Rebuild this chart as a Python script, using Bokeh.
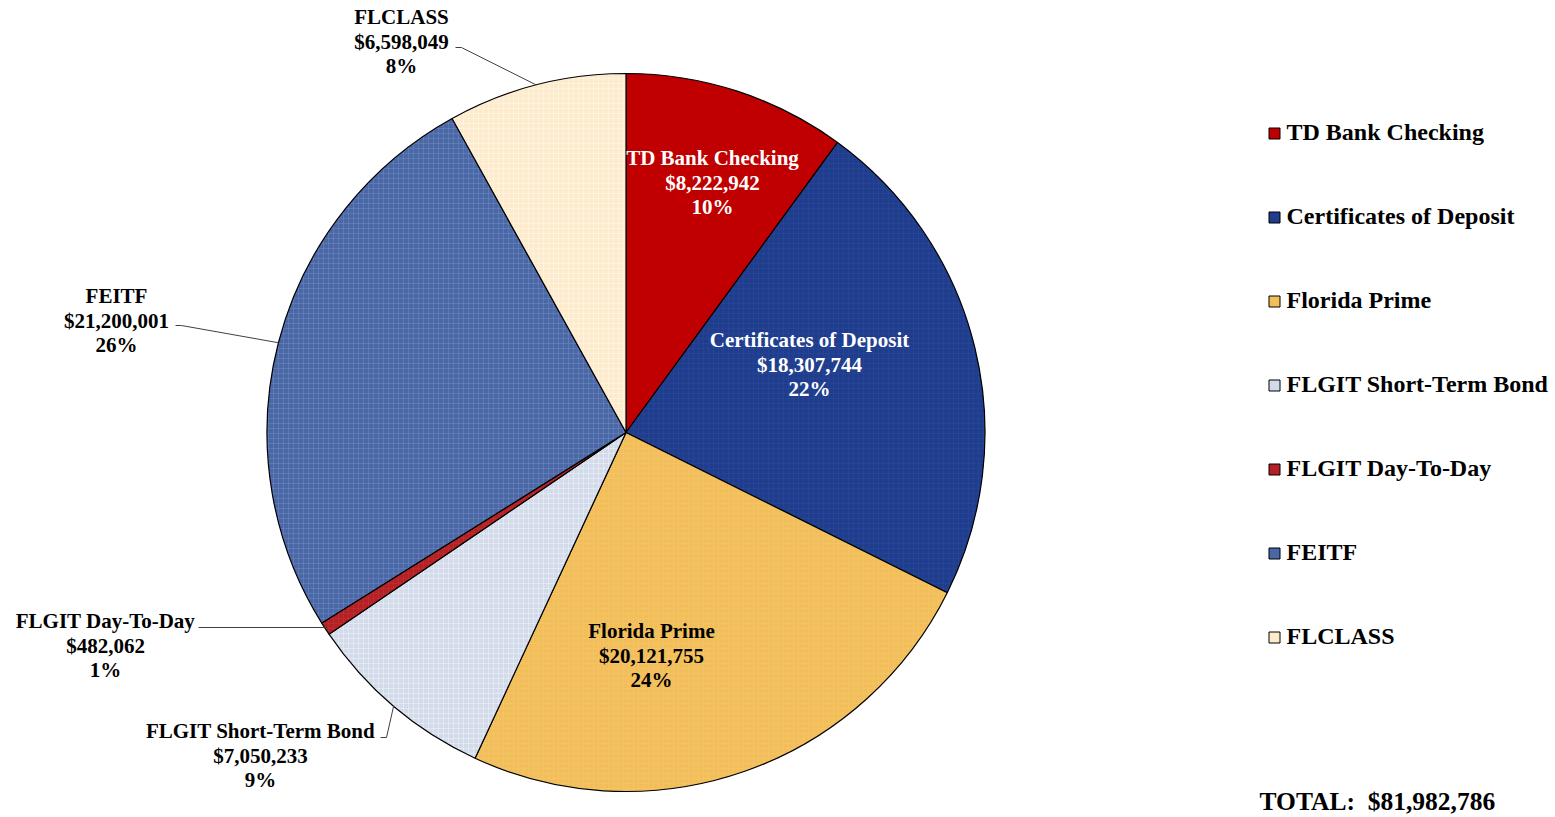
import math
from bokeh.plotting import figure
from bokeh.models import ColumnDataSource, Range1d
from bokeh.core.properties import value
from bokeh.embed import file_html
from bokeh.resources import INLINE

# ---- data ----
categories = ["TD Bank Checking", "Certificates of Deposit", "Florida Prime",
              "FLGIT Short-Term Bond", "FLGIT Day-To-Day", "FEITF", "FLCLASS"]
amounts = [8222942, 18307744, 20121755, 7050233, 482062, 21200001, 6598049]
pct_labels = ["10%", "22%", "24%", "9%", "1%", "26%", "8%"]
colors = ["#C00000", "#1F3D8C", "#F2BE5A", "#D3DBEA", "#B52025", "#4A67A6", "#FDEBCC"]
hatch_colors = ["#C00000", "#2E4E9E", "#F6CB74", "#FFFFFF", "#C44040", "#8098CC", "#FFFFFF"]
text_colors = ["white", "white", "black", "black", "black", "black", "black"]

W, H = 1553, 815
FONT = "Liberation Serif"

p = figure(width=W, height=H, output_backend="svg", toolbar_location=None,
           x_range=Range1d(0, W), y_range=Range1d(0, H), min_border=0)
p.axis.visible = False
p.grid.visible = False
p.outline_line_color = None
p.background_fill_color = "white"


def sx(X):
    return X


def sy(Y):
    return H - Y


cx, cy, R = sx(625.5), sy(432), 359

total = sum(amounts)
starts, ends, mids = [], [], []
cum = 0.0
for a in amounts:
    s = math.pi / 2 - 2 * math.pi * cum / total
    cum += a
    e = math.pi / 2 - 2 * math.pi * cum / total
    starts.append(s)
    ends.append(e)
    mids.append((s + e) / 2)

src = ColumnDataSource(dict(start=starts, end=ends, color=colors, hcolor=hatch_colors))
p.wedge(x=cx, y=cy, radius=R, radius_units="screen", start_angle="end", end_angle="start",
        fill_color="color", line_color="black", line_width=1.2, source=src,
        hatch_pattern="+", hatch_color="hcolor", hatch_scale=5, hatch_alpha=0.35,
        hatch_weight=1)

# ---- slice labels ----
label_pos = {
    0: (712, 182),
    1: (809, 364),
    2: (651, 655),
    3: (260, 755),
    4: (105, 645),
    5: (116, 320),
    6: (401, 41),
}
LINE = 24.5
tx, ty, tt, tc = [], [], [], []
for i, (X, Y) in label_pos.items():
    lines = [categories[i], f"${amounts[i]:,}", pct_labels[i]]
    for k, ln in enumerate(lines):
        tx.append(sx(X))
        ty.append(sy(Y + (k - 1) * LINE))
        tt.append(ln)
        tc.append(text_colors[i])
p.text(x=tx, y=ty, text=tt, text_color=tc, text_font=value(FONT),
       text_font_style="bold", text_font_size="21px", text_align="center",
       text_baseline="middle")

# ---- leader lines (outside labels) ----
leader_starts = {
    6: [(455, 47), (461, 47)],
    5: [(175, 325), (181, 325)],
    4: [(198, 627)],
    3: [(380, 737), (386, 737)],
}
for i, pts in leader_starts.items():
    ex = cx + R * math.cos(mids[i])
    ey = cy + R * math.sin(mids[i])
    if i == 4:
        ey = sy(627)
        ex = cx - math.sqrt(R * R - (ey - cy) ** 2) + 3
    xs = [sx(X) for X, _ in pts] + [ex]
    ys = [sy(Y) for _, Y in pts] + [ey]
    p.line(xs, ys, line_color="#404040", line_width=1)

# ---- legend ----
leg_y = [132 + 84 * k for k in range(len(categories))]
p.rect(x=[sx(1274)] * len(categories), y=[sy(Y + 1) for Y in leg_y], width=11, height=11,
       width_units="screen", height_units="screen", fill_color=colors,
       line_color="black", line_width=1)
p.text(x=[sx(1286)] * len(categories), y=[sy(Y - 0.5) for Y in leg_y], text=categories,
       text_font=value(FONT), text_font_style="bold", text_font_size="24px",
       text_align="left", text_baseline="middle", text_color="black")

p.text(x=[sx(1259)], y=[sy(801)], text=[f"TOTAL:\u00a0 ${total:,}"],
       text_font=value(FONT), text_font_style="bold", text_font_size="25.5px",
       text_align="left", text_baseline="middle", text_color="black")

open("out.html", "w").write(file_html(p, INLINE))
